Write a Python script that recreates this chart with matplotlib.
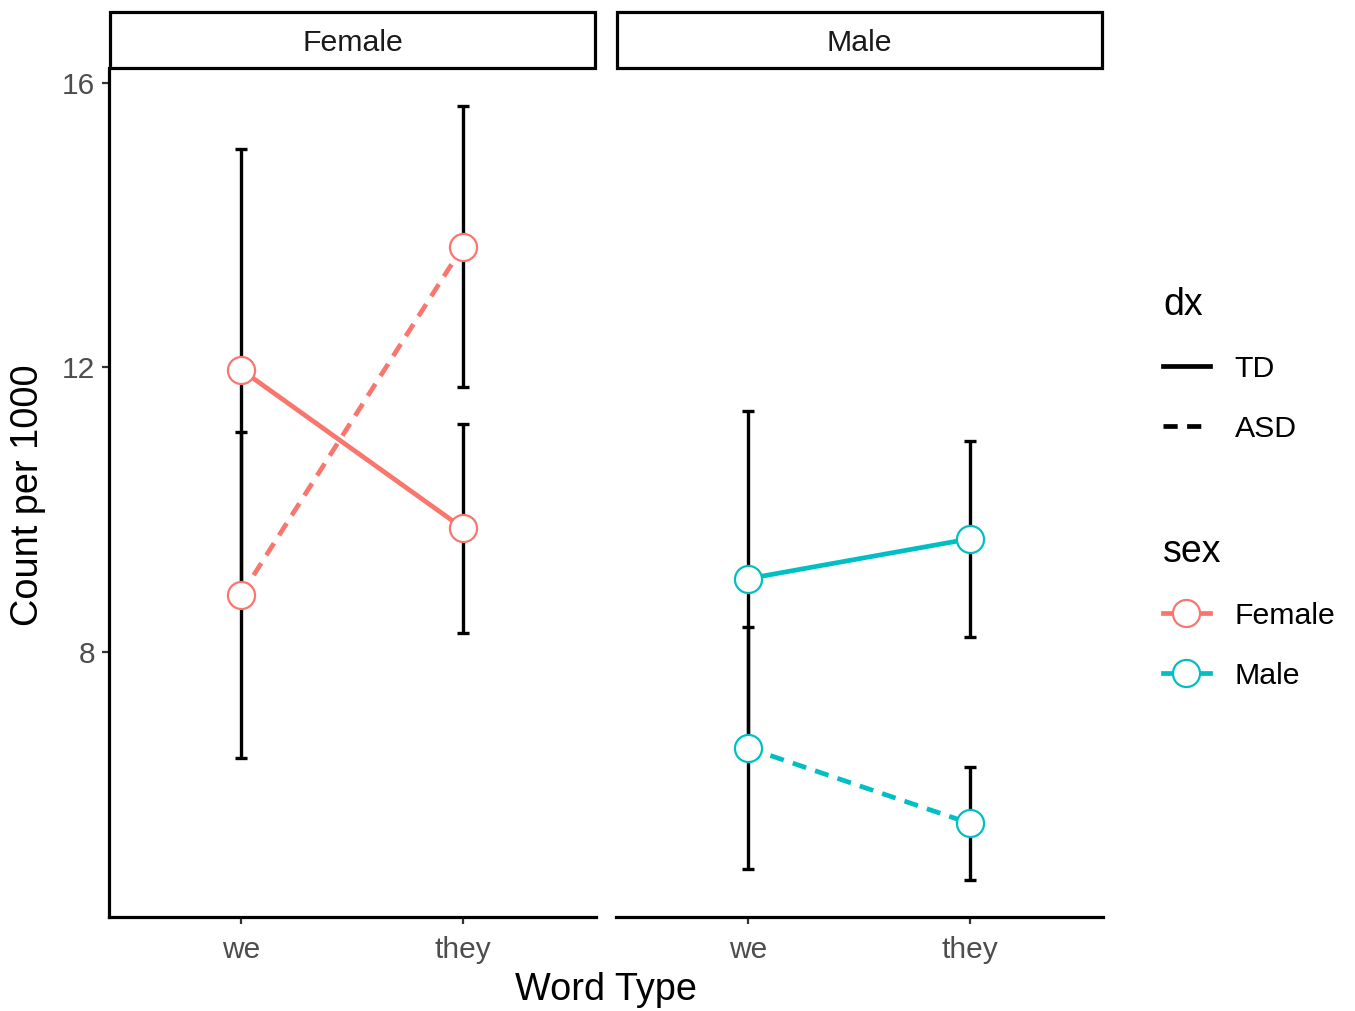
import matplotlib
matplotlib.use("Agg")
import matplotlib.pyplot as plt
from matplotlib.lines import Line2D
from matplotlib.patches import Rectangle

plt.rcParams['font.family'] = ['Liberation Sans', 'DejaVu Sans']

# ---- data ----
words = ['we', 'they']
panels = ['Female', 'Male']
dx_levels = ['TD', 'ASD']

female_td = [11.97, 9.74]
female_td_ci = [3.10, 1.47]
female_asd = [8.80, 13.70]
female_asd_ci = [2.29, 1.97]

male_td = [9.03, 9.59]
male_td_ci = [2.36, 1.38]
male_asd = [6.65, 5.59]
male_asd_ci = [1.70, 0.79]

yticks = [8, 12, 16]

colors = {'Female': '#F8766D', 'Male': '#00BFC4'}
data = {
    'Female': {'TD': (female_td, female_td_ci), 'ASD': (female_asd, female_asd_ci)},
    'Male': {'TD': (male_td, male_td_ci), 'ASD': (male_asd, male_asd_ci)},
}
dash_style = {'TD': None, 'ASD': (3, 2)}

LW = 3.4
MS = 19.5
MEW = 1.6

W, H = 1355, 1011
fig = plt.figure(figsize=(W / 100, H / 100), dpi=100)

bottom = 1 - 917 / H
top = 1 - 68 / H
lefts = [109 / W, 616 / W]
width = (596 - 109) / W

x = [1, 2]
for i, p in enumerate(panels):
    ax = fig.add_axes([lefts[i], bottom, width, top - bottom])
    col = colors[p]
    for d in dx_levels:
        vals, ci = data[p][d]
        ax.errorbar(x, vals, yerr=ci, fmt='none', ecolor='black', elinewidth=2.4,
                    capsize=4, capthick=2.4, zorder=2)
        ln, = ax.plot(x, vals, color=col, lw=LW, zorder=3, solid_capstyle='butt')
        if dash_style[d] is not None:
            ln.set_dashes(dash_style[d])
        ax.plot(x, vals, linestyle='none', marker='o', markersize=MS,
                markerfacecolor='white', markeredgecolor=col, markeredgewidth=MEW, zorder=4)
    ax.set_xlim(0.405, 2.6)
    ax.set_ylim(4.273, 16.21)
    ax.set_xticks(x)
    ax.set_xticklabels(words)
    ax.set_yticks(yticks)
    for s in ['top', 'right']:
        ax.spines[s].set_visible(False)
    ax.spines['bottom'].set_linewidth(2.3)
    ax.spines['left'].set_linewidth(2.3)
    ax.tick_params(axis='both', labelsize=21.5, labelcolor='#4d4d4d', width=1.6,
                   length=5, color='#333333', pad=5)
    ax.tick_params(axis='x', pad=8.5)
    if i == 1:
        ax.spines['left'].set_visible(False)
        ax.tick_params(axis='y', left=False, labelleft=False)
    # strip
    strip_h = 56 / (917 - 68)
    rect = Rectangle((0.002, 1.0), 0.996, strip_h, transform=ax.transAxes,
                     facecolor='white', edgecolor='black', lw=2.3, clip_on=False, zorder=5)
    ax.add_patch(rect)
    ax.text(0.5, 1 + strip_h / 2 - 3 / 849, p, transform=ax.transAxes, ha='center', va='center',
            fontsize=21.8, color='#1a1a1a', zorder=6)

fig.text((109 + 1102) / 2 / W, 1 - 990 / H, 'Word Type', ha='center', va='center', fontsize=27.3)
fig.text(28 / W, 1 - 495 / H, 'Count per 1000', ha='center', va='center', rotation=90, fontsize=27.3)

# legends
h_td = Line2D([], [], color='black', lw=LW)
h_asd = Line2D([], [], color='black', lw=LW, dashes=(3, 2))
leg_kw = dict(loc='upper left', frameon=False, fontsize=21.8, title_fontsize=27,
              handlelength=1.55, labelspacing=1.05, handletextpad=0.82,
              borderpad=0, borderaxespad=0)
leg1 = fig.legend([h_td, h_asd], dx_levels, title='dx',
                  bbox_to_anchor=(1163 / W, 1 - 287 / H), **leg_kw)
leg1._legend_box.align = 'left'

h_f = Line2D([], [], color=colors['Female'], lw=LW, marker='o', markersize=MS,
             markerfacecolor='white', markeredgecolor=colors['Female'], markeredgewidth=MEW)
h_m = Line2D([], [], color=colors['Male'], lw=LW, marker='o', markersize=MS,
             markerfacecolor='white', markeredgecolor=colors['Male'], markeredgewidth=MEW)
leg2 = fig.legend([h_f, h_m], panels, title='sex',
                  bbox_to_anchor=(1163 / W, 1 - 534 / H), **leg_kw)
leg2._legend_box.align = 'left'

fig.savefig('out.png', dpi=100)
